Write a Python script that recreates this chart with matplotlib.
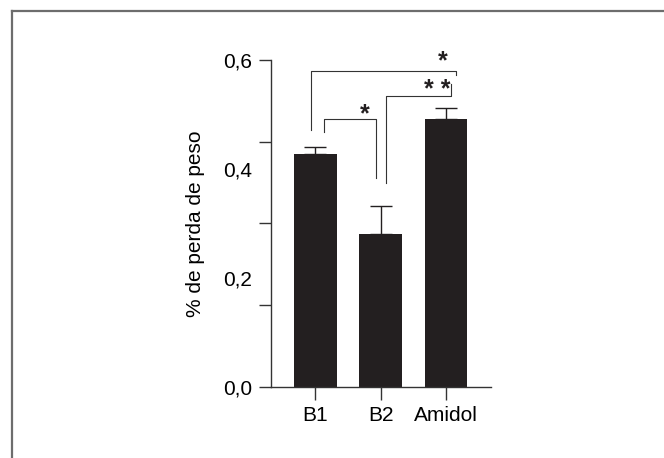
import matplotlib.pyplot as plt
from matplotlib.lines import Line2D

plt.rcParams['font.family'] = ['Liberation Sans', 'DejaVu Sans']

groups = ['B1', 'B2', 'Amidol']
means = [0.427, 0.280, 0.492]
errs = [0.013, 0.052, 0.020]
tick_marks = [0.0, 0.15, 0.30, 0.45, 0.60]
tick_labels = ['0,0', '0,2', '0,4', '0,6']
label_pos = [0.0, 0.2, 0.4, 0.6]

# brackets: (x_left, y_left_start, x_right, y_right_end, y_top, stars, star_x, star_y)
brackets = [
    (0.13, 0.468, 0.925, 0.384, 0.491, '*', 0.75, 0.500),
    (1.09, 0.375, 2.08, 0.555, 0.534, '* *', 1.86, 0.545),
    (-0.07, 0.471, 2.155, 0.572, 0.580, '*', 1.95, 0.598),
]

fig = plt.figure(figsize=(6.64, 4.58), dpi=100)
ax = fig.add_axes([0.4077, 0.1557, 0.3313, 0.7133])

x = range(len(groups))
ax.bar(x, means, width=0.65, color='#231f20', zorder=2)
ax.errorbar(x, means, yerr=[[0] * 3, errs], fmt='none', ecolor='#231f20',
            elinewidth=1.0, capsize=8, capthick=1.0, zorder=1)

ax.set_xlim(-0.683, 2.686)
ax.set_ylim(0, 0.6)

ax.set_xticks(list(x))
ax.set_xticklabels(groups)
ax.tick_params(axis='x', length=9.6, width=1.0, pad=4, color='#333333',
               labelsize=15)

ax.set_yticks(tick_marks)
ax.set_yticklabels([''] * len(tick_marks))
ax.set_yticks(label_pos, minor=True)
ax.set_yticklabels(tick_labels, minor=True)
ax.yaxis.remove_overlapping_locs = False
ax.tick_params(axis='y', which='major', length=9, width=1.0, color='#333333')
ax.tick_params(axis='y', which='minor', length=0, pad=13.5, labelsize=15)

for s in ['top', 'right']:
    ax.spines[s].set_visible(False)
for s in ['left', 'bottom']:
    ax.spines[s].set_linewidth(1.0)
    ax.spines[s].set_color('#333333')

ax.set_ylabel('% de perda de peso', fontsize=15)
ax.yaxis.set_label_coords(-0.30, 0.5)

for xl, yl, xr, yr, yt, st, sx, sy in brackets:
    ax.plot([xl, xl, xr, xr], [yl, yt, yt, yr], color='#333333', lw=0.8,
            clip_on=False)
    ax.text(sx, sy, st, ha='center', va='center', fontsize=18,
            fontweight='bold', color='#231f20', clip_on=False)

# frame around the figure (top and left only)
fig.add_artist(Line2D([0.0176, 0.0176], [0, 1 - 10.7 / 458], color='#6d6d6d', lw=1.6))
fig.add_artist(Line2D([0.0176, 1], [1 - 10.7 / 458, 1 - 10.7 / 458], color='#6d6d6d', lw=1.6))

fig.savefig('out.png', dpi=100)
